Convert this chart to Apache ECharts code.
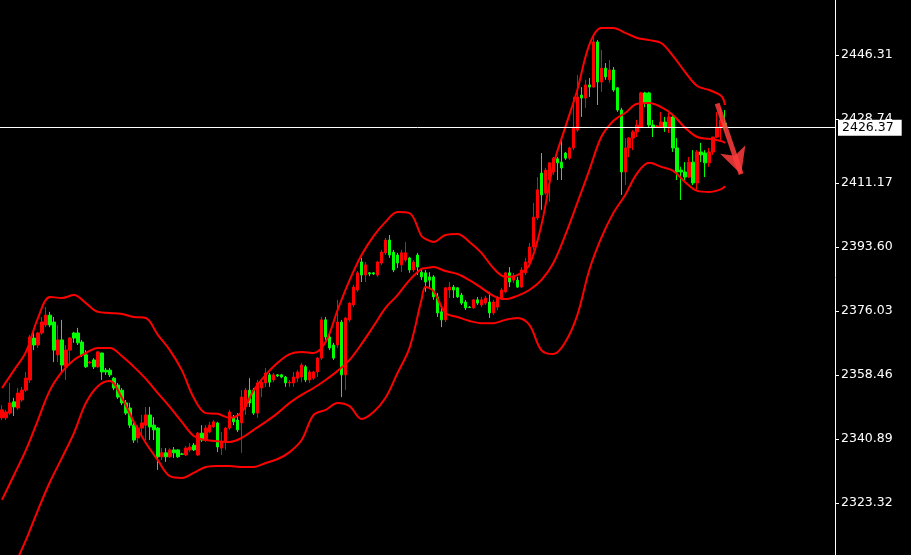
<!DOCTYPE html>
<html>
<head>
<meta charset="utf-8">
<script src="https://cdn.jsdelivr.net/npm/echarts@6/dist/echarts.min.js"></script>
<style>
html,body{margin:0;padding:0;background:#000;}
#chart{width:911px;height:555px;}
</style>
</head>
<body>
<div id="chart"></div>
<script>
// ---- data ----
const open = [2346.7,2346.7,2348.0,2351.1,2349.4,2351.6,2354.3,2357.1,2368.6,2366.7,
2370.0,2372.2,2374.9,2373.0,2364.0,2368.1,2360.7,2365.3,2370.0,2370.0,
2367.5,2364.0,2361.8,2362.6,2360.7,2364.5,2359.8,2359.8,2357.6,2355.7,
2354.3,2350.8,2349.4,2344.7,2341.2,2343.9,2344.7,2347.5,2344.7,2343.9,
2336.0,2337.1,2336.0,2337.9,2337.9,2336.8,2336.5,2337.9,2339.2,2336.5,
2342.5,2340.6,2342.8,2344.2,2345.3,2338.4,2340.1,2343.9,2346.7,2346.1,
2345.3,2349.7,2354.3,2354.3,2348.0,2354.9,2356.3,2358.5,2357.1,2358.5,
2358.5,2357.9,2356.3,2356.3,2357.6,2357.9,2360.7,2357.1,2357.6,2359.3,
2363.1,2373.6,2368.9,2366.7,2366.7,2373.0,2358.5,2373.6,2377.7,2381.8,
2389.5,2385.9,2386.5,2386.5,2385.9,2389.2,2392.0,2395.5,2392.2,2391.4,
2388.7,2390.0,2390.6,2387.3,2391.4,2386.7,2386.5,2385.4,2385.4,2379.9,
2375.8,2373.6,2381.8,2382.6,2382.4,2380.4,2378.5,2377.1,2376.9,2379.1,
2377.7,2378.2,2378.5,2375.5,2377.1,2379.6,2381.3,2386.5,2384.5,2384.5,
2382.6,2386.5,2389.2,2393.6,2401.6,2413.9,2408.4,2412.0,2414.2,2417.8,
2416.9,2419.4,2418.0,2420.8,2425.7,2435.3,2434.5,2438.1,2437.5,2449.9,
2438.9,2442.7,2439.5,2442.2,2437.3,2431.2,2414.2,2420.8,2423.5,2425.2,
2426.5,2435.9,2435.9,2427.1,2426.5,2426.5,2427.9,2426.5,2429.3,2420.8,
2414.7,2414.2,2412.8,2416.9,2411.2,2419.7,2419.4,2416.7,2419.7,2423.8,
2426.5,2427.6];
const close = [2348.9,2348.3,2350.8,2349.7,2353.5,2354.3,2357.6,2368.9,2366.7,2370.0,
2373.0,2374.9,2372.2,2365.3,2368.1,2361.2,2365.3,2368.6,2368.6,2367.3,
2364.0,2360.7,2362.0,2360.7,2364.8,2359.3,2359.3,2358.5,2354.9,2352.4,
2350.8,2348.0,2344.7,2340.6,2343.9,2345.3,2347.5,2344.2,2343.4,2336.0,
2337.1,2336.0,2337.9,2337.1,2336.0,2336.7,2338.4,2338.7,2337.9,2342.5,
2340.6,2343.9,2344.7,2345.6,2338.7,2340.1,2343.9,2348.3,2345.6,2343.4,
2352.4,2354.3,2350.8,2348.0,2356.3,2356.5,2359.0,2356.5,2358.5,2358.2,
2357.9,2356.3,2356.5,2357.9,2359.3,2361.2,2357.1,2359.3,2359.3,2363.1,
2373.6,2368.9,2365.9,2363.1,2373.0,2358.5,2374.1,2378.2,2382.6,2386.5,
2385.9,2388.7,2386.2,2386.2,2389.5,2392.2,2395.5,2391.4,2387.3,2389.2,
2392.0,2392.0,2387.3,2389.5,2388.1,2385.4,2384.0,2384.5,2379.9,2375.5,
2373.6,2382.4,2382.6,2381.8,2379.9,2378.2,2376.9,2377.0,2379.1,2378.2,
2379.1,2379.6,2375.5,2378.5,2379.6,2381.8,2386.5,2384.0,2385.4,2382.6,
2387.3,2389.5,2393.6,2401.8,2409.3,2407.9,2414.7,2416.7,2418.0,2416.7,
2415.3,2418.0,2420.8,2426.5,2434.8,2434.5,2438.1,2437.5,2449.9,2438.9,
2442.7,2440.3,2442.2,2436.7,2431.2,2414.2,2420.8,2423.5,2425.2,2427.1,
2435.9,2433.1,2427.1,2426.5,2426.8,2427.9,2426.5,2429.3,2420.8,2414.2,
2414.2,2412.8,2416.9,2411.2,2419.7,2418.9,2416.7,2419.7,2423.8,2426.5,
2428.5,2426.37];
const low = [2346.1,2346.1,2347.5,2347.2,2348.9,2351.1,2353.8,2356.3,2365.3,2365.9,
2369.5,2371.6,2371.6,2362.0,2362.0,2359.0,2357.1,2361.2,2367.3,2366.7,
2363.4,2360.4,2361.5,2360.1,2360.4,2357.1,2358.5,2357.9,2354.3,2351.9,
2350.2,2347.5,2343.9,2339.8,2339.8,2342.0,2340.6,2340.6,2340.6,2332.4,
2335.1,2334.6,2335.7,2335.7,2335.7,2336.5,2336.2,2337.3,2337.6,2336.2,
2340.1,2340.1,2342.5,2343.9,2337.3,2336.5,2337.9,2343.4,2344.7,2342.8,
2337.1,2347.5,2349.7,2347.5,2346.7,2352.4,2355.2,2355.2,2356.5,2357.9,
2357.6,2355.2,2355.2,2355.2,2356.5,2356.5,2356.5,2356.3,2357.1,2357.9,
2362.6,2368.1,2365.3,2362.6,2365.9,2352.4,2354.3,2373.0,2377.1,2381.3,
2384.0,2384.0,2385.6,2385.9,2385.4,2388.7,2391.4,2390.6,2386.7,2387.8,
2386.7,2389.5,2386.5,2386.7,2385.9,2384.5,2381.3,2382.4,2379.1,2374.4,
2371.6,2373.0,2379.6,2379.6,2379.6,2377.7,2376.3,2376.9,2376.6,2377.7,
2377.1,2377.7,2374.1,2374.9,2376.3,2379.1,2381.0,2382.6,2383.7,2382.4,
2382.4,2385.9,2388.1,2392.8,2401.0,2403.8,2407.9,2406.0,2413.4,2412.0,
2412.0,2417.5,2417.5,2420.2,2425.2,2429.3,2431.8,2434.8,2437.3,2432.6,
2436.2,2439.5,2438.6,2436.2,2430.7,2407.9,2410.6,2418.3,2420.2,2423.8,
2426.3,2432.0,2426.5,2423.8,2426.3,2426.3,2425.2,2424.9,2419.7,2412.0,
2406.5,2412.0,2412.6,2410.6,2409.3,2416.9,2412.8,2415.6,2418.9,2423.5,
2423.0,2425.7];
const high = [2350.2,2348.9,2356.3,2352.2,2354.9,2355.2,2359.3,2369.5,2370.3,2370.3,
2374.4,2377.1,2375.8,2374.4,2372.2,2373.6,2366.7,2368.9,2370.3,2371.4,
2368.1,2365.3,2362.3,2363.1,2365.1,2364.6,2360.4,2360.4,2357.9,2356.3,
2354.9,2351.6,2350.8,2345.3,2344.7,2347.5,2349.7,2349.7,2346.9,2344.2,
2338.4,2338.4,2338.4,2338.7,2338.1,2337.1,2339.0,2339.8,2339.8,2342.8,
2344.7,2344.7,2345.6,2346.1,2345.6,2342.8,2344.2,2348.9,2347.5,2348.0,
2354.3,2354.9,2357.6,2354.9,2357.1,2357.1,2360.4,2359.0,2359.0,2358.7,
2358.7,2358.2,2357.1,2359.3,2359.8,2361.8,2361.2,2359.8,2359.6,2363.4,
2374.4,2374.4,2369.5,2367.3,2379.1,2373.6,2374.4,2378.5,2383.2,2387.0,
2390.6,2389.5,2386.7,2386.7,2389.8,2392.8,2396.1,2396.9,2392.8,2392.0,
2392.8,2395.0,2390.9,2390.0,2392.0,2387.8,2387.3,2386.7,2385.9,2381.0,
2377.1,2382.6,2384.0,2383.2,2382.6,2381.0,2379.1,2377.4,2379.3,2379.9,
2379.9,2380.2,2381.3,2379.1,2380.2,2382.4,2386.7,2388.1,2386.5,2385.4,
2388.1,2390.6,2394.7,2405.7,2412.8,2419.4,2415.3,2416.9,2418.3,2418.3,
2423.5,2419.7,2421.1,2434.8,2440.8,2437.5,2439.5,2440.0,2451.3,2450.4,
2447.7,2444.1,2444.9,2443.0,2437.5,2431.8,2423.5,2423.8,2425.7,2428.5,
2436.2,2436.2,2436.2,2428.5,2427.1,2430.7,2429.3,2430.4,2429.8,2423.5,
2415.6,2416.9,2418.3,2420.2,2420.2,2422.2,2420.2,2420.8,2423.8,2430.7,
2431.8,2431.2];

// Bollinger bands, read at these bar positions
const bandAt = [0,3,6,9,12,15,18,21,24,27,30,33,36,39,42,45,48,51,54,57,60,63,66,69,72,75,78,81,84,87,90,93,96,99,102,105,106,
108,111,114,117,120,123,126,129,132,135,138,141,144,147,150,153,156,159,162,165,168,171,174,177,180,181];
const upperBand = [2354.9,2359.8,2364.8,2374.1,2379.9,2379.6,2380.4,2378.2,2375.8,2375.5,2375.2,2374.4,2374.1,2369.5,2365.3,2359.8,2352.2,2348.0,2347.8,2346.7,
2348.3,2354.3,2358.5,2361.8,2364.2,2364.8,2364.5,2367.5,2376.3,2384.5,2391.4,2396.6,2400.5,2403.2,2402.9,2396.6,2395.8,
2395.0,2396.9,2397.2,2395.0,2392.0,2387.8,2385.4,2385.9,2388.7,2399.6,2416.1,2426.5,2436.7,2449.1,2453.7,2453.7,2452.4,2451.0,2450.4,2449.6,2446.0,2441.6,2437.8,2436.7,2435.1,2432.6];
const middleBand = [2324.2,2331.0,2337.9,2346.1,2354.3,2359.3,2362.6,2364.5,2365.9,2365.9,2363.7,2360.7,2357.4,2353.5,2349.7,2345.6,2341.7,2340.6,2340.3,2340.1,
2341.2,2343.4,2345.6,2348.0,2350.8,2353.0,2354.9,2357.1,2359.6,2362.6,2367.0,2371.9,2376.9,2380.4,2384.5,2387.6,2387.8,
2388.1,2387.0,2386.2,2384.5,2382.4,2380.2,2379.3,2380.2,2381.8,2384.5,2389.2,2396.9,2405.7,2414.7,2423.8,2428.2,2430.4,2432.9,2433.1,2432.0,2429.8,2426.3,2423.8,2423.3,2422.7,2422.2];
const lowerBand = [2298.1,2305.8,2313.2,2321.4,2329.1,2335.7,2342.5,2350.8,2355.4,2356.8,2352.2,2345.6,2339.8,2335.1,2330.7,2330.2,2331.6,2333.2,2333.5,2333.5,
2333.2,2333.2,2334.3,2335.4,2337.3,2340.6,2347.5,2348.9,2350.8,2349.9,2346.4,2348.3,2352.2,2359.0,2365.9,2379.1,2382.6,
2381.5,2375.5,2374.4,2373.3,2372.7,2372.7,2373.6,2374.1,2372.2,2365.3,2364.2,2367.5,2374.9,2387.3,2396.1,2402.9,2407.9,2413.9,2416.7,2415.6,2414.5,2411.4,2409.0,2408.7,2409.5,2410.3];

const priceTicks = [2323.32, 2340.89, 2358.46, 2376.03, 2393.60, 2411.17, 2428.74, 2446.31];
const lastPrice = 2426.37;
const slotCount = 209;            // bar slots across the plot, incl. empty right margin
const arrowFrom = [179, 2433.0];  // drawn arrow annotation (bar index, price)
const arrowTo = [185, 2413.6];

// ---- build ----
const slots = Array.from({length: slotCount}, (_, i) => String(i));
const ohlc = open.map((o, i) => [o, close[i], low[i], high[i]]);
const band = arr => arr.map((v, k) => [bandAt[k], v]);

const FONT = 'DejaVu Sans';
const chart = echarts.init(document.getElementById('chart'), null, {renderer: 'canvas'});
const bandLine = {color: '#ff0000', width: 2};

chart.setOption({
  backgroundColor: '#000000',
  animation: false,
  grid: {left: 0, right: 76, top: 0, bottom: 0, containLabel: false},
  xAxis: {
    type: 'category', data: slots, boundaryGap: true, show: false
  },
  yAxis: {
    type: 'value', position: 'right', scale: true,
    min: 2309.05, max: 2461.41,
    splitLine: {show: false},
    axisLine: {show: true, onZero: false, lineStyle: {color: '#ffffff', width: 1}},
    axisTick: {show: true, inside: false, length: 4, lineStyle: {color: '#ffffff'}, customValues: priceTicks},
    axisLabel: {
      show: true, color: '#ffffff', fontSize: 12.5, fontFamily: FONT, margin: 6,
      customValues: priceTicks,
      formatter: v => Number(v).toFixed(2)
    }
  },
  series: [
    {
      type: 'candlestick', data: ohlc, barWidth: 3,
      itemStyle: {color: '#ff0000', color0: '#00ff00', borderColor: '#ff0000', borderColor0: '#00ff00', borderWidth: 1},
      markLine: {
        silent: true, animation: false, symbol: ['none', 'none'],
        lineStyle: {color: '#ffffff', width: 1, type: 'solid'},
        label: {
          show: true, position: 'end', distance: 3,
          formatter: lastPrice.toFixed(2),
          backgroundColor: '#ffffff', color: '#000000',
          fontSize: 12.5, fontFamily: FONT, padding: [2, 8, 1, 4]
        },
        data: [{yAxis: lastPrice}]
      }
    },
    {type: 'line', data: band(upperBand), smooth: 0.35, connectNulls: true, showSymbol: false, symbol: 'none', lineStyle: bandLine, silent: true},
    {type: 'line', data: band(middleBand), smooth: 0.35, connectNulls: true, showSymbol: false, symbol: 'none', lineStyle: bandLine, silent: true},
    {type: 'line', data: band(lowerBand), smooth: 0.35, connectNulls: true, showSymbol: false, symbol: 'none', lineStyle: bandLine, silent: true},
    {
      type: 'line', data: [], silent: true,
      markLine: {
        silent: true, animation: false,
        symbol: ['none', 'arrow'], symbolSize: [20, 26],
        lineStyle: {color: 'rgba(255,60,60,0.85)', width: 5, type: 'solid'},
        itemStyle: {color: 'rgba(255,60,60,0.85)'},
        label: {show: false},
        data: [[{coord: arrowFrom}, {coord: arrowTo}]]
      }
    }
  ]
});
</script>
</body>
</html>
